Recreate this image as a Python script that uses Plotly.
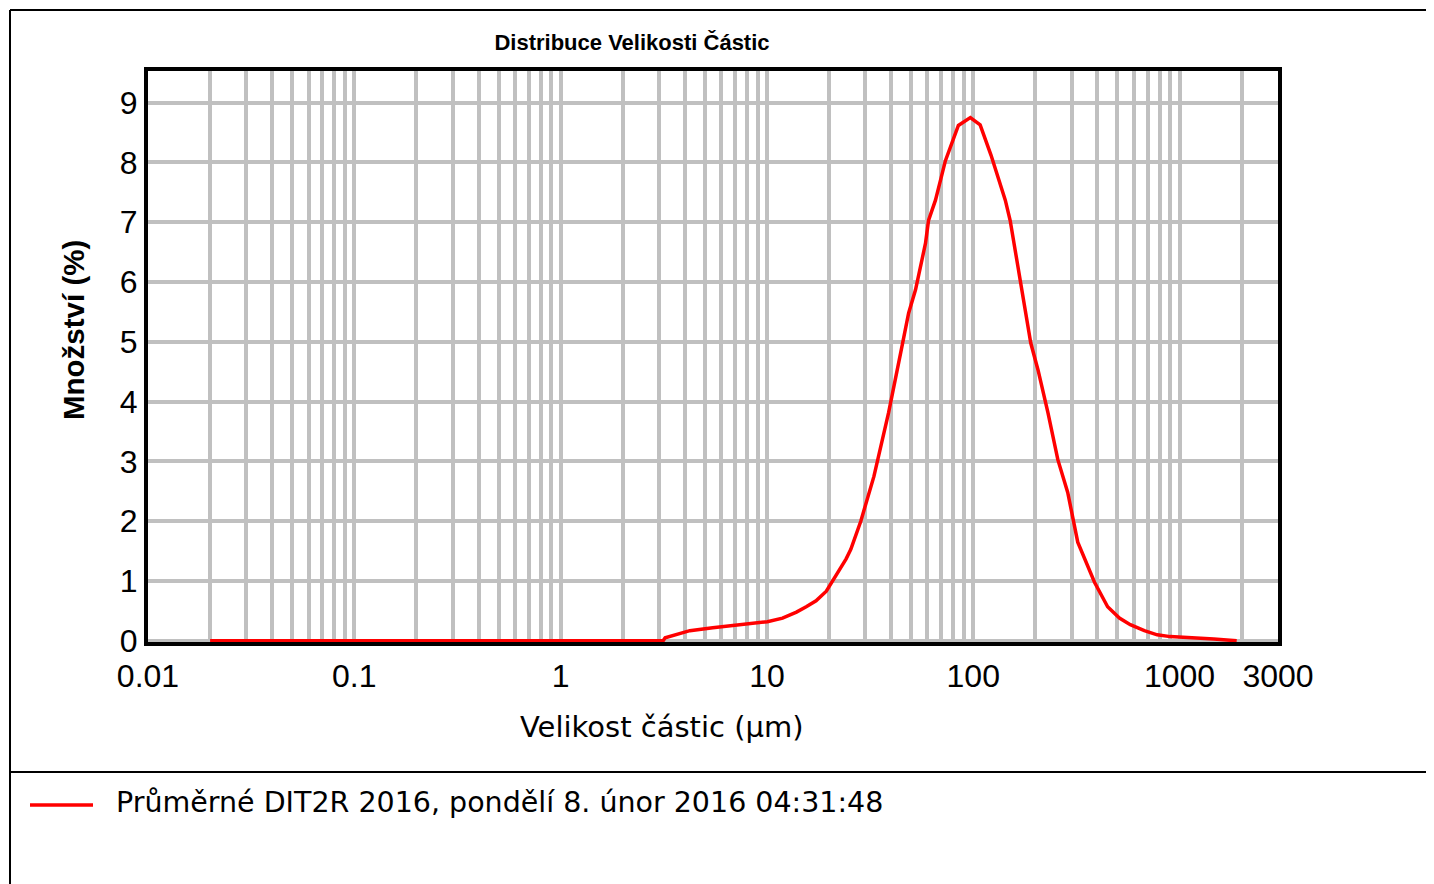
import plotly.graph_objects as go

# Particle size (µm) and amount (%)
sizes = [0.02, 3.14, 3.21, 3.66, 4.23, 5.46, 7.97, 10.05, 11.9, 13.9, 15.5, 17.3,
         19.4, 21.6, 24.2, 25.5, 28.5, 33.0, 38.9, 44.5, 48.6, 52.5, 58.7, 60.7,
         65.6, 73.3, 84.7, 96.8, 108, 122, 143, 151, 165, 190, 206, 230, 257,
         287, 321, 387, 448, 511, 577, 675, 779, 900, 1466, 1892]
amounts = [0, 0, 0.05, 0.10, 0.17, 0.22, 0.28, 0.32, 0.38, 0.48, 0.57, 0.67,
           0.83, 1.08, 1.37, 1.53, 2.00, 2.75, 3.82, 4.82, 5.48, 5.87, 6.65, 7.03,
           7.37, 8.03, 8.62, 8.75, 8.63, 8.12, 7.37, 7.03, 6.25, 4.98, 4.53, 3.82,
           3.03, 2.48, 1.65, 0.98, 0.57, 0.38, 0.27, 0.17, 0.10, 0.07, 0.03, 0]

x_tickvals = [0.01, 0.1, 1, 10, 100, 1000, 3000]
x_ticktext = ["0.01", "0.1", "1", "10", "100", "1000", "3000"]
y_tickvals = [0, 1, 2, 3, 4, 5, 6, 7, 8, 9]

series_name = "Průměrné DIT2R 2016, pondělí 8. únor 2016 04:31:48"
title_text = "Distribuce Velikosti Částic"
x_title = "Velikost částic (µm)"
y_title = "Množství (%)"

minor_vals = [m * 10 ** e for e in range(-2, 3) for m in range(2, 10)] + [2000]

# page has an 8px body margin; positions below are in figure pixels
OFF = 8
W, H = 1434, 884
L, R, T, B = 148 - OFF, 1278 - OFF, 71 - OFF, 642 - OFF

def px(xr):
    """reference-screen x pixel -> paper coordinate"""
    return (xr - OFF - L) / (R - L)

def py(yr):
    """reference-screen y pixel -> paper coordinate"""
    return (B - (yr - OFF)) / (B - T)

tick_font = dict(family="Liberation Sans, Arial, sans-serif", size=32, color="black")
bold_font = "Liberation Sans, Arial, sans-serif"
text_font = "DejaVu Sans, sans-serif"

fig = go.Figure()
fig.add_trace(go.Scatter(
    x=sizes, y=amounts, mode="lines", name=series_name,
    line=dict(color="#ff0000", width=3.5), showlegend=False,
))

fig.update_layout(
    width=W, height=H,
    margin=dict(l=L, r=W - R, t=T, b=H - B, pad=0, autoexpand=False),
    paper_bgcolor="white", plot_bgcolor="white",
    title=dict(text=title_text, x=(632 - OFF) / W, xref="container", xanchor="center",
               y=1 - (42 - OFF) / H, yref="container", yanchor="middle",
               font=dict(family=bold_font, size=22, color="black", weight="bold")),
    showlegend=False,
)

fig.update_xaxes(
    type="log", range=[-2, 3.4771], automargin=False,
    tickmode="array", tickvals=x_tickvals, ticktext=x_ticktext, tickangle=0,
    tickfont=tick_font, ticks="", ticklabelstandoff=3,
    showgrid=True, gridcolor="#c0c0c0", gridwidth=3.5,
    minor=dict(tickmode="array", tickvals=minor_vals, showgrid=True,
               gridcolor="#c0c0c0", gridwidth=3.5, ticks=""),
    showline=True, linecolor="black", linewidth=4, mirror=True,
    zeroline=False,
)

fig.update_yaxes(
    range=[-0.02, 9.53], automargin=False,
    tickmode="array", tickvals=y_tickvals,
    tickfont=tick_font, ticks="", ticklabelstandoff=0,
    showgrid=True, gridcolor="#c0c0c0", gridwidth=3.5,
    showline=True, linecolor="black", linewidth=4, mirror=True,
    zeroline=False,
)

# axis titles placed where the reference has them
fig.add_annotation(
    text=y_title, xref="paper", yref="paper", x=px(73), y=py(330),
    xanchor="center", yanchor="middle", showarrow=False, textangle=-90,
    font=dict(family=bold_font, size=29.5, color="black", weight="bold"),
)
fig.add_annotation(
    text=x_title, xref="paper", yref="paper", x=px(662), y=py(727),
    xanchor="center", yanchor="middle", showarrow=False,
    font=dict(family=text_font, size=29, color="black"),
)

# manual legend below the chart
fig.add_shape(type="line", xref="paper", yref="paper",
              x0=px(30), y0=py(805), x1=px(93), y1=py(805),
              line=dict(color="#ff0000", width=3.5))
fig.add_annotation(
    text=series_name, xref="paper", yref="paper", x=px(114), y=py(803),
    xanchor="left", yanchor="middle", showarrow=False,
    font=dict(family=text_font, size=28.5, color="black"),
)

# frame lines around the chart and above the legend
line_style = dict(color="black", width=2)
fig.add_shape(type="line", xref="paper", yref="paper",
              x0=px(10), y0=py(10), x1=px(W + 20), y1=py(10), line=line_style)
fig.add_shape(type="line", xref="paper", yref="paper",
              x0=px(10), y0=py(10), x1=px(10), y1=py(H + 20), line=line_style)
fig.add_shape(type="line", xref="paper", yref="paper",
              x0=px(10), y0=py(772), x1=px(W + 20), y1=py(772), line=line_style)

fig.write_html("out.html")
